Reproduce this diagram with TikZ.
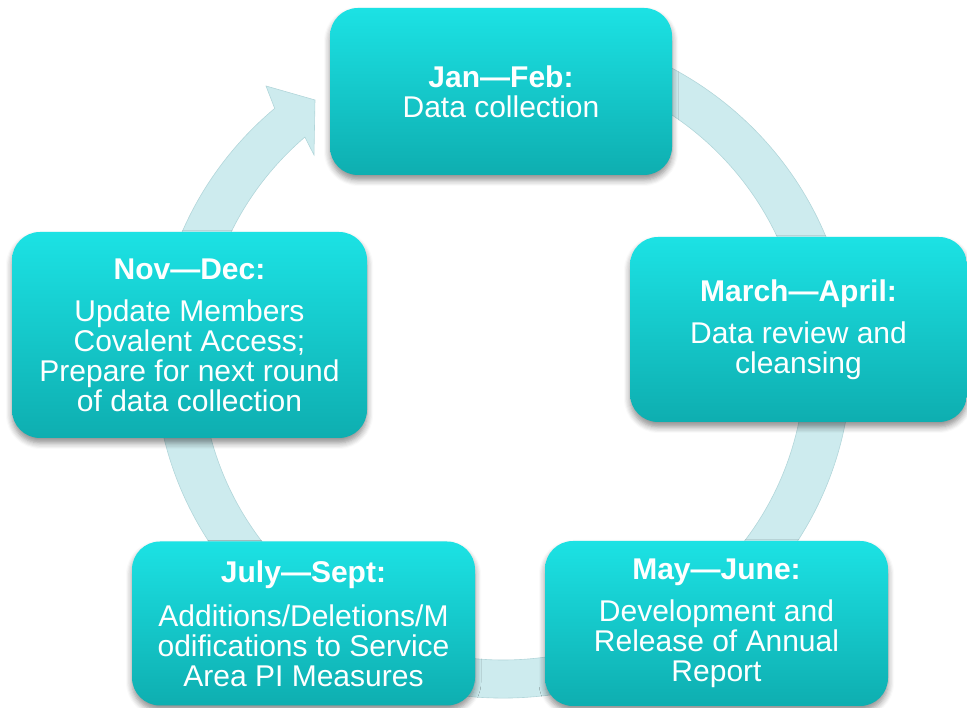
\documentclass[tikz,border=0pt]{standalone}
\usepackage{fontspec}
\setmainfont{Liberation Sans}
\usetikzlibrary{shadows.blur,calc}
\definecolor{ringfill}{RGB}{205,235,238}
\definecolor{ringedge}{RGB}{178,214,218}
\definecolor{boxtop}{RGB}{28,226,228}
\definecolor{boxbot}{RGB}{14,174,176}
\tikzset{
  phase/.style={rounded corners=28pt, top color=boxtop, bottom color=boxbot,
    draw=none, text=white, align=center, inner sep=0pt,
    font=\fontsize{30}{30}\selectfont,
    blur shadow={shadow blur steps=6, shadow xshift=0pt, shadow yshift=-5pt,
      shadow opacity=45, shadow blur radius=6pt}},
}
\begin{document}
\begin{tikzpicture}[x=1pt,y=1pt]
\useasboundingbox (0,0) rectangle (967,708);
% cycle ring
\coordinate (c) at (503,346);
\coordinate (ob) at (266,622);
\coordinate (tip) at (315,608);
\coordinate (ib) at (314,553);
\filldraw[fill=ringfill, draw=ringedge, line width=0.6pt]
  (c) ++(70:348pt and 336pt)
  arc[start angle=70, end angle=-229, x radius=348pt, y radius=336pt]
  -- (ob) -- (tip) -- (ib)
  -- ($(c)+(131:302pt and 298pt)$)
  arc[start angle=-229, end angle=70, x radius=302pt, y radius=298pt]
  -- cycle;
% phases
\node[phase, minimum width=342pt, minimum height=167pt] (jan) at (501,616.5)
  {\textbf{Jan—Feb:}\\Data collection};
\node[phase, minimum width=337pt, minimum height=185pt] (mar) at (798.5,378.5)
  {\textbf{March—April:}\\[12pt]Data review and\\cleansing};
\node[phase, minimum width=343pt, minimum height=165pt] (may) at (716.5,84.5)
  {\textbf{May—June:}\\[12pt]Development and\\Release of Annual\\Report};
\node[phase, minimum width=343pt, minimum height=164pt] (jul) at (303.5,84.5)
  {\textbf{July—Sept:}\\[14pt]Additions/Deletions/M\\odifications to Service\\Area PI Measures};
\node[phase, minimum width=355pt, minimum height=206pt] (nov) at (189.5,373)
  {\textbf{Nov—Dec:}\\[12pt]Update Members\\Covalent Access;\\Prepare for next round\\of data collection};
\end{tikzpicture}
\end{document}
